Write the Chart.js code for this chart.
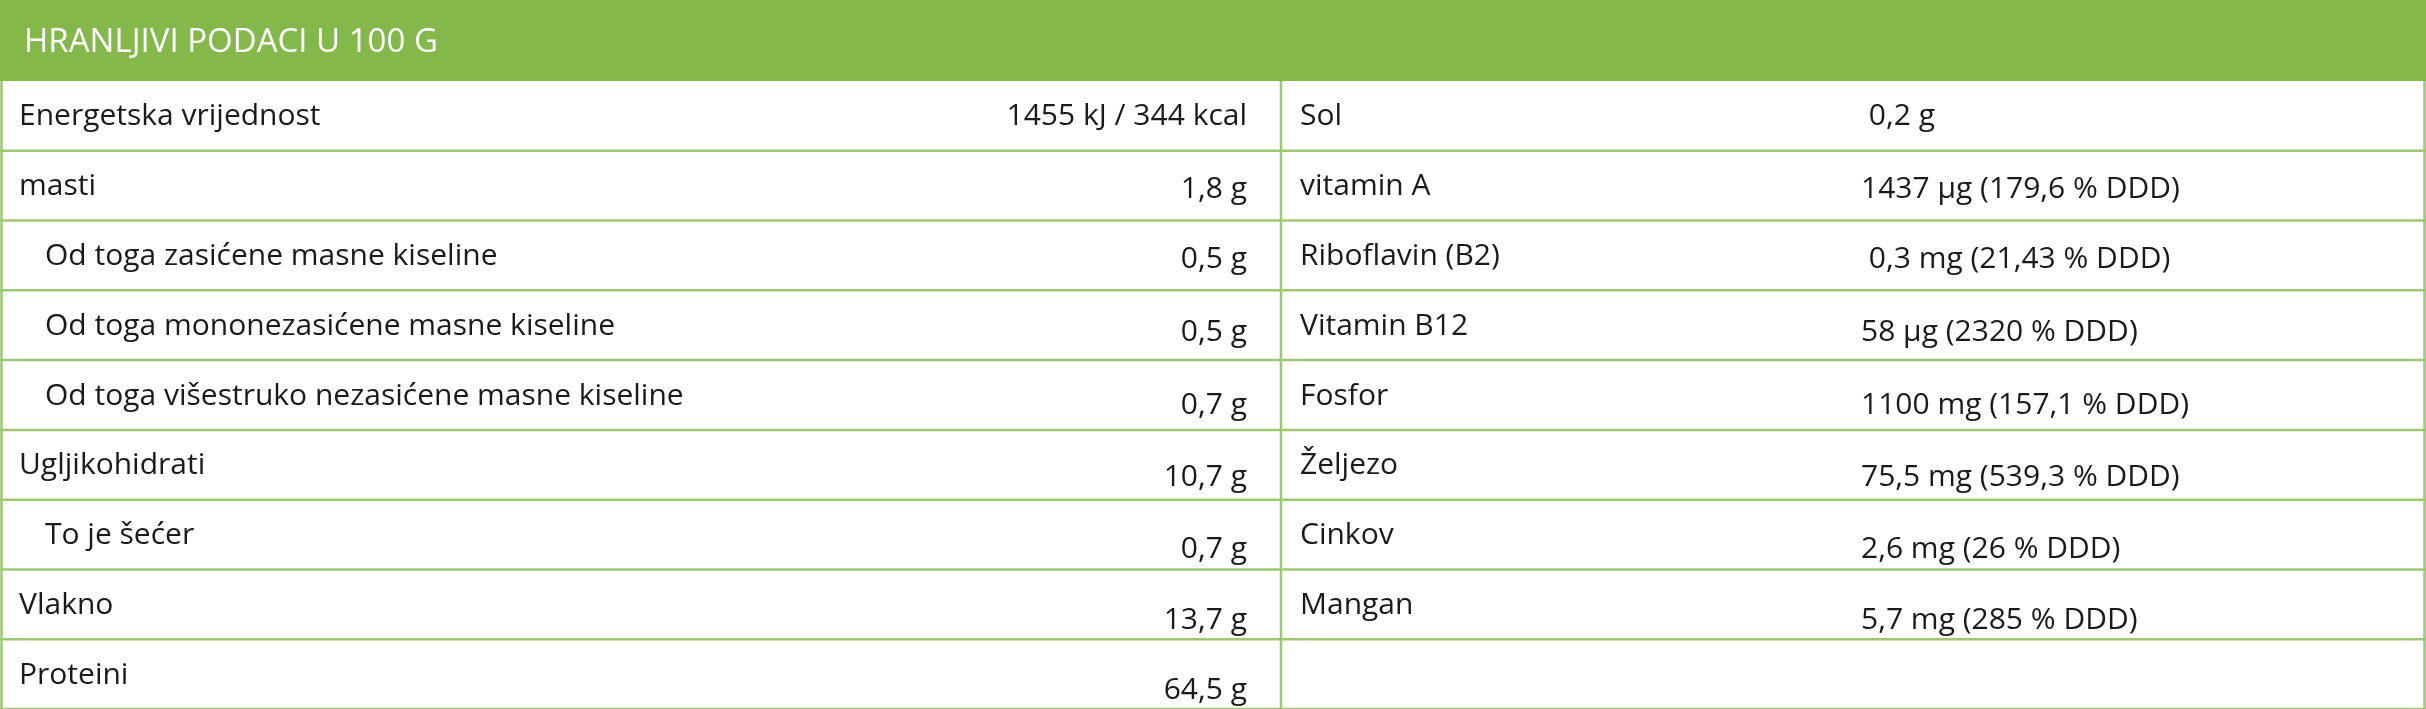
<!DOCTYPE html>
<html><head><meta charset="utf-8">
<script src="https://cdn.jsdelivr.net/npm/chart.js@4"></script>
<style>html,body{margin:0;padding:0;background:#fff}#wrap{width:2426px;height:709px}</style>
</head><body><div id="wrap"><canvas id="c" width="2426" height="709"></canvas></div>
<script>
const title = "HRANLJIVI PODACI U 100 G";
const leftLabels = ["Energetska vrijednost","masti","Od toga zasićene masne kiseline","Od toga mononezasićene masne kiseline","Od toga višestruko nezasićene masne kiseline","Ugljikohidrati","To je šećer","Vlakno","Proteini"];
const leftIndent = [0,0,1,1,1,0,1,0,0];
const leftValues = ["1455 kJ / 344 kcal","1,8 g","0,5 g","0,5 g","0,7 g","10,7 g","0,7 g","13,7 g","64,5 g"];
const rightLabels = ["Sol","vitamin A","Riboflavin (B2)","Vitamin B12","Fosfor","Željezo","Cinkov","Mangan",""];
const rightValues = [" 0,2 g","1437 µg (179,6 % DDD)"," 0,3 mg (21,43 % DDD)","58 µg (2320 % DDD)","1100 mg (157,1 % DDD)","75,5 mg (539,3 % DDD)","2,6 mg (26 % DDD)","5,7 mg (285 % DDD)",""];
const valueShift = [0,3,3,6,9,12,14,15,15];

const tablePlugin = {
  id:'table',
  afterDraw(chart){
    const ctx = chart.ctx, W = chart.width, H = chart.height;
    const green = '#84b84b', line = '#9cc872';
    const headH = 81, rowH = (H - headH)/9, colX = 1281;
    ctx.save();
    ctx.fillStyle = '#fff'; ctx.fillRect(0,0,W,H);
    ctx.fillStyle = green; ctx.fillRect(0,0,W,headH);
    ctx.fillStyle = '#fff'; ctx.font = '400 33px "Open Sans", sans-serif';
    ctx.textBaseline = 'middle'; ctx.textAlign='left';
    ctx.fillText(title, 24, 43);
    ctx.strokeStyle = line; ctx.lineWidth = 2.5;
    for (let i=1;i<=9;i++){ const y = headH + rowH*i; ctx.beginPath(); ctx.moveTo(0,y); ctx.lineTo(W,y); ctx.stroke(); }
    ctx.beginPath(); ctx.moveTo(1.5,headH); ctx.lineTo(1.5,H); ctx.moveTo(W-1.5,headH); ctx.lineTo(W-1.5,H);
    ctx.moveTo(colX,headH); ctx.lineTo(colX,H); ctx.stroke();
    ctx.fillStyle = '#1a1a1a'; ctx.font = '30px "Open Sans", sans-serif';
    for (let i=0;i<9;i++){
      const cy = headH + rowH*i + rowH/2 + 1;
      ctx.textAlign='left';
      ctx.fillText(leftLabels[i], leftIndent[i]?45:19, cy);
      ctx.fillText(rightLabels[i], 1300, cy);
      ctx.fillText(rightValues[i], 1861, cy + valueShift[i]);
      ctx.textAlign='right';
      ctx.fillText(leftValues[i], 1247, cy + valueShift[i]);
    }
    ctx.restore();
  }
};
new Chart(document.getElementById('c'), {
  type:'bar',
  data:{labels:leftLabels, datasets:[{data:[], label:title}]},
  options:{responsive:false, animation:false, devicePixelRatio:1,
    plugins:{legend:{display:false}, tooltip:{enabled:false}},
    scales:{x:{display:false}, y:{display:false}}},
  plugins:[tablePlugin]
});
</script></body></html>
